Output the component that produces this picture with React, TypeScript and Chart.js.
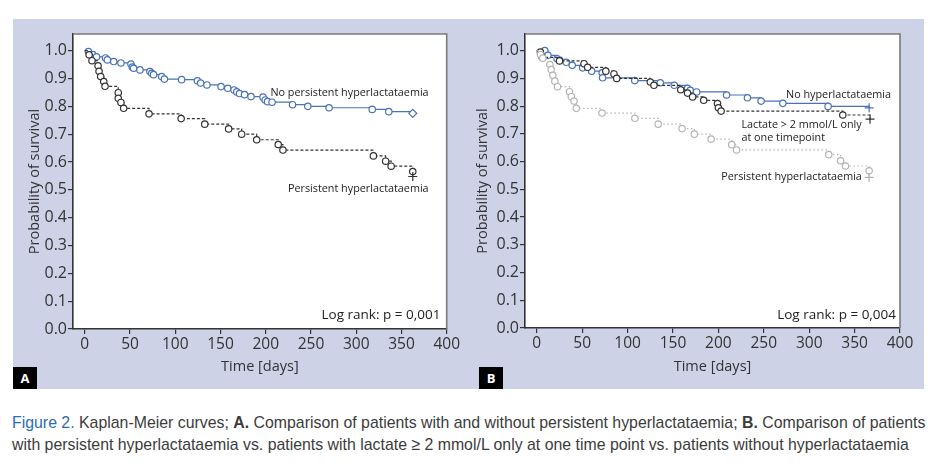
import React, { useEffect, useRef } from "react";
import { Chart, registerables } from "chart.js";
Chart.register(...registerables);

// ---------- DATA ----------
const xTickValues = [0, 50, 100, 150, 200, 250, 300, 350, 400];
const yTickValues = [0, 0.1, 0.2, 0.3, 0.4, 0.5, 0.6, 0.7, 0.8, 0.9, 1.0];

// Panel A: no persistent hyperlactataemia
const aNoPersistentT = [0, 4, 9, 13, 23, 25, 32, 40, 51, 52.5, 54, 61, 72, 74, 76, 85, 88, 107, 124.5, 128, 135, 150.6, 158, 165, 168, 171, 176.6, 183.7, 197, 199.4, 202, 207, 229.6, 246.5, 270, 317.7, 336, 362.5];
const aNoPersistentS = [1.0, 0.997, 0.986, 0.978, 0.974, 0.967, 0.961, 0.956, 0.952, 0.941, 0.937, 0.931, 0.925, 0.919, 0.914, 0.907, 0.898, 0.896, 0.892, 0.884, 0.877, 0.871, 0.865, 0.859, 0.852, 0.846, 0.842, 0.835, 0.833, 0.823, 0.817, 0.815, 0.806, 0.8, 0.795, 0.789, 0.781, 0.775];

// Panel A: persistent hyperlactataemia
const aPersistentT = [0, 4.8, 8, 14.7, 15.8, 17.6, 21, 22.4, 37, 37, 40, 43, 71, 106.5, 132.6, 159, 173.4, 190, 213.8, 219, 319, 332.5, 338.6, 362.5, 362.5];
const aPersistentS = [1.0, 0.985, 0.964, 0.946, 0.926, 0.907, 0.889, 0.872, 0.849, 0.829, 0.814, 0.793, 0.773, 0.756, 0.736, 0.719, 0.7, 0.68, 0.663, 0.643, 0.622, 0.603, 0.585, 0.566, 0.548];

// Panel B: no hyperlactataemia
const bNoHyperT = [0, 8.8, 12.2, 22.4, 25.4, 32.4, 39, 50.5, 60.4, 72, 72.5, 107.9, 136, 151.4, 166, 169, 176, 209, 232, 247, 271, 320.8, 366];
const bNoHyperS = [1.0, 1.0, 0.983, 0.971, 0.965, 0.958, 0.947, 0.938, 0.926, 0.92, 0.902, 0.892, 0.884, 0.875, 0.864, 0.857, 0.851, 0.84, 0.83, 0.818, 0.81, 0.799, 0.794];

// Panel B: lactate > 2 mmol/L only at one timepoint
const bOneTimeT = [0, 4, 5.9, 25, 52, 56, 76, 85, 88, 125, 129, 158.5, 166, 171.6, 183.8, 199, 200, 203, 337, 367];
const bOneTimeS = [1.0, 0.995, 0.976, 0.963, 0.953, 0.94, 0.926, 0.916, 0.9, 0.887, 0.875, 0.859, 0.847, 0.833, 0.821, 0.809, 0.794, 0.782, 0.768, 0.753];

// Panel B: persistent hyperlactataemia
const bPersistentT = [0, 4, 6.6, 14.4, 15.8, 17.7, 19.9, 22.8, 36, 38, 41, 43.5, 71.8, 108, 133.7, 160, 173.5, 192, 214.7, 220, 321.5, 334.5, 340, 366, 366];
const bPersistentS = [1.0, 0.986, 0.973, 0.95, 0.932, 0.911, 0.89, 0.87, 0.852, 0.834, 0.818, 0.792, 0.775, 0.756, 0.735, 0.719, 0.699, 0.681, 0.661, 0.642, 0.625, 0.603, 0.584, 0.567, 0.543];

// ---------- STYLE ----------
const FONT = "'Open Sans', 'DejaVu Sans', sans-serif";
const BLUE = "#4a72b8";
const DARK = "#333333";
const GREY = "#b4b4b4";
const LAVENDER = "#cdd2e6";

function pts(t: number[], s: number[]) {
  return t.map((x, i) => ({ x, y: s[i] }));
}

function markerStyles(n: number, ends: string[]) {
  const styles: string[] = [];
  const radii: number[] = [];
  for (let i = 0; i < n; i++) {
    const fromEnd = n - 1 - i;
    if (i === 0) { styles.push("circle"); radii.push(0); }
    else if (fromEnd < ends.length) {
      const st = ends[ends.length - 1 - fromEnd];
      styles.push(st);
      radii.push(st === "cross" ? 4.5 : st === "rectRot" ? 4 : 3.2);
    } else { styles.push("circle"); radii.push(3.2); }
  }
  return { styles, radii };
}

function series(t: number[], s: number[], color: string, dash: number[], ends: string[]) {
  const m = markerStyles(t.length, ends);
  return {
    data: pts(t, s),
    stepped: true,
    borderColor: color,
    borderWidth: 1.2,
    borderDash: dash,
    pointStyle: m.styles,
    pointRadius: m.radii,
    pointBorderColor: color,
    pointBackgroundColor: "#ffffff",
    pointBorderWidth: 1.2,
    fill: false,
  };
}

type Label = { text: string; x: number; y: number; align: CanvasTextAlign; size: number };

const labelsA: Label[] = [
  { text: "No persistent hyperlactataemia", x: 380, y: 0.849, align: "right", size: 10.8 },
  { text: "Persistent hyperlactataemia", x: 380, y: 0.505, align: "right", size: 10.8 },
  { text: "Log rank: p = 0,001", x: 393, y: 0.05, align: "right", size: 13.5 },
];
const labelsB: Label[] = [
  { text: "No hyperlactataemia", x: 390, y: 0.84, align: "right", size: 10.8 },
  { text: "Lactate > 2 mmol/L only", x: 225.4, y: 0.732, align: "left", size: 10.8 },
  { text: "at one timepoint", x: 225.4, y: 0.686, align: "left", size: 10.8 },
  { text: "Persistent hyperlactataemia", x: 358, y: 0.546, align: "right", size: 10.8 },
  { text: "Log rank: p = 0,004", x: 395.6, y: 0.048, align: "right", size: 13.5 },
];

const areaPlugin = {
  id: "areaPlugin",
  beforeDraw(chart: any) {
    const { ctx, chartArea: a } = chart;
    ctx.save();
    ctx.fillStyle = "#ffffff";
    ctx.fillRect(a.left, a.top, a.right - a.left, a.bottom - a.top);
    ctx.restore();
  },
  afterDraw(chart: any) {
    const { ctx, chartArea: a } = chart;
    ctx.save();
    ctx.strokeStyle = "#7a7a7a";
    ctx.lineWidth = 1.6;
    ctx.beginPath();
    ctx.moveTo(a.left, a.top);
    ctx.lineTo(a.right, a.top);
    ctx.lineTo(a.right, a.bottom);
    ctx.stroke();
    const labels: Label[] = chart.options.plugins.areaPlugin.labels;
    const xs = chart.scales.x, ys = chart.scales.y;
    ctx.fillStyle = "#222";
    ctx.textBaseline = "middle";
    for (const l of labels) {
      ctx.font = `${l.size}px ${FONT}`;
      ctx.textAlign = l.align;
      ctx.fillText(l.text, xs.getPixelForValue(l.x), ys.getPixelForValue(l.y));
    }
    ctx.restore();
  },
};

function makeOptions(yWidth: number, rightPad: number, xHeight: number, labels: Label[]) {
  return {
    responsive: false,
    animation: false as const,
    layout: { padding: { left: 0, right: rightPad, top: 15, bottom: 0 } },
    plugins: {
      legend: { display: false },
      tooltip: { enabled: false },
      areaPlugin: { labels },
    },
    scales: {
      x: {
        type: "linear" as const,
        min: -13,
        max: 400,
        afterFit(scale: any) { scale.height = xHeight; },
        afterBuildTicks(scale: any) { scale.ticks = xTickValues.map((v) => ({ value: v })); },
        ticks: {
          color: DARK,
          font: { family: FONT, size: 15.5 },
          padding: 1,
          maxRotation: 0,
          callback: (v: any) => String(v),
        },
        grid: { drawOnChartArea: false, drawTicks: true, tickLength: 5, color: DARK, lineWidth: 1.2 },
        border: { display: true, color: DARK, width: 1.6 },
        title: {
          display: true,
          text: "Time [days]",
          color: DARK,
          font: { family: FONT, size: 14.5 },
          padding: { top: 0, bottom: 13 },
        },
      },
      y: {
        type: "linear" as const,
        min: 0,
        max: 1.06,
        afterFit(scale: any) { scale.width = yWidth; },
        afterBuildTicks(scale: any) { scale.ticks = yTickValues.map((v) => ({ value: v })); },
        ticks: {
          color: DARK,
          font: { family: FONT, size: 16 },
          padding: 1,
          callback: (v: any) => Number(v).toFixed(1),
        },
        grid: { drawOnChartArea: false, drawTicks: true, tickLength: 5, color: DARK, lineWidth: 1.2 },
        border: { display: true, color: DARK, width: 1.6 },
        title: {
          display: true,
          text: "Probability of survival",
          color: DARK,
          font: { family: FONT, size: 14.5 },
          padding: { top: 13, bottom: 0 },
        },
      },
    },
  };
}

function Panel(props: { width: number; height: number; datasets: any[]; yWidth: number; rightPad: number; xHeight: number; labels: Label[] }) {
  const ref = useRef<HTMLCanvasElement | null>(null);
  useEffect(() => {
    if (!ref.current) return;
    const chart = new Chart(ref.current, {
      type: "line",
      data: { datasets: props.datasets },
      options: makeOptions(props.yWidth, props.rightPad, props.xHeight, props.labels) as any,
      plugins: [areaPlugin as any],
    });
    return () => chart.destroy();
  }, []);
  return <canvas ref={ref} width={props.width} height={props.height} style={{ width: props.width, height: props.height, display: "block" }} />;
}

export default function App() {
  const datasetsA = [
    series(aPersistentT, aPersistentS, DARK, [3, 2], ["circle", "cross"]),
    series(aNoPersistentT, aNoPersistentS, BLUE, [], ["rectRot"]),
  ];
  const datasetsB = [
    series(bPersistentT, bPersistentS, GREY, [1.5, 2.5], ["circle", "cross"]),
    series(bOneTimeT, bOneTimeS, DARK, [3, 2], ["cross"]),
    series(bNoHyperT, bNoHyperS, BLUE, [], ["cross"]),
  ];
  const boxLabel = (left: number, text: string) => (
    <div style={{ position: "absolute", left, top: 367, width: 24, height: 22, background: "#000", color: "#fff", fontFamily: FONT, fontWeight: 700, fontSize: 13, lineHeight: "22px", textAlign: "center" }}>{text}</div>
  );
  return (
    <div style={{ position: "absolute", left: 0, top: 0, width: 948, height: 467, background: "#fff", overflow: "hidden" }}>
      <div style={{ position: "absolute", left: 13, top: 19, width: 911, height: 370, background: LAVENDER }} />
      <div style={{ position: "absolute", left: 13, top: 19 }}>
        <Panel width={448} height={370} datasets={datasetsA} yWidth={60} rightPad={13} xHeight={60} labels={labelsA} />
      </div>
      <div style={{ position: "absolute", left: 461, top: 19 }}>
        <Panel width={463} height={370} datasets={datasetsB} yWidth={64} rightPad={24} xHeight={61} labels={labelsB} />
      </div>
      {boxLabel(13, "A")}
      {boxLabel(479, "B")}
      <div style={{ position: "absolute", left: 12, top: 412, width: 1040, fontFamily: "'Liberation Sans', sans-serif", fontSize: 17, lineHeight: "22px", color: "#3c3c3c", whiteSpace: "nowrap", transform: "scaleX(0.933)", transformOrigin: "left top" }}>
        <div><span style={{ color: "#2a6db5" }}>Figure 2.</span> Kaplan-Meier curves; <b>A.</b> Comparison of patients with and without persistent hyperlactataemia; <b>B.</b> Comparison of patients</div>
        <div>with persistent hyperlactataemia vs. patients with lactate ≥ 2 mmol/L only at one time point vs. patients without hyperlactataemia</div>
      </div>
    </div>
  );
}
